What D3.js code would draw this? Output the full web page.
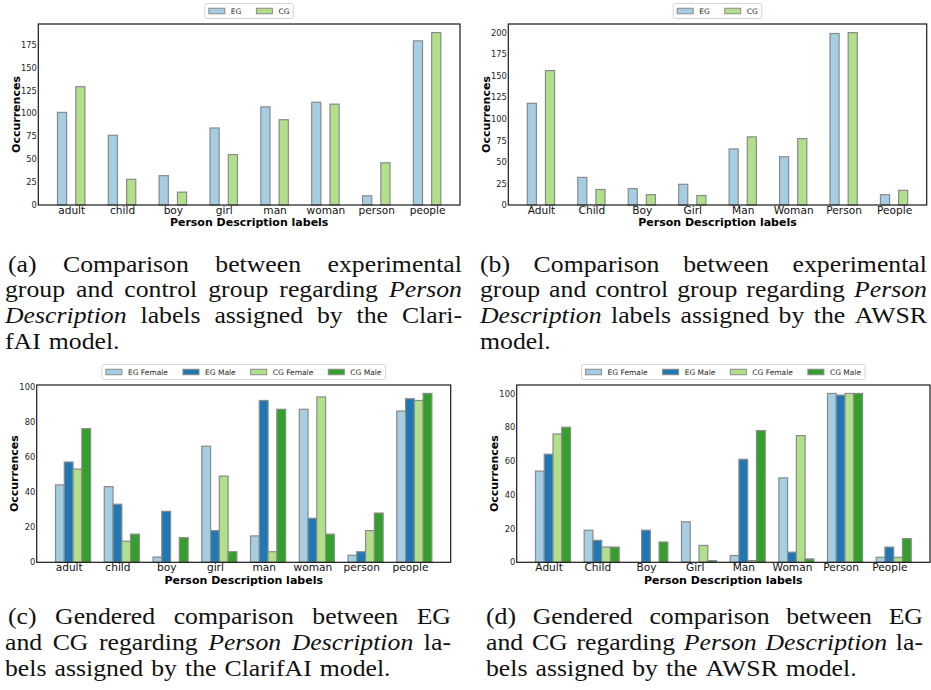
<!DOCTYPE html>
<html>
<head>
<meta charset="utf-8">
<script src="https://cdn.jsdelivr.net/npm/d3@7"></script>
<style>
  body { margin: 0; background: #fff; }
  svg text { font-family: "DejaVu Sans", sans-serif; }
  .cap text { font-family: "Liberation Serif", serif; }
</style>
</head>
<body>
<svg id="fig" width="931" height="690"></svg>
<script>
// ---- data ----
const labelsLower = ["adult", "child", "boy", "girl", "man", "woman", "person", "people"];
const labelsUpper = ["Adult", "Child", "Boy", "Girl", "Man", "Woman", "Person", "People"];

const egClarifai = [101, 76, 32, 84, 107, 112, 10, 179];
const cgClarifai = [129, 28, 14, 55, 93, 110, 46, 188];

const egAwsr = [118, 32, 19, 24, 65, 56, 199, 12];
const cgAwsr = [156, 18, 12, 11, 79, 77, 200, 17];

const egFemaleClarifai = [44, 43, 3, 66, 15, 87, 4, 86];
const egMaleClarifai   = [57, 33, 29, 18, 92, 25, 6, 93];
const cgFemaleClarifai = [53, 12, 0, 49, 6, 94, 18, 92];
const cgMaleClarifai   = [76, 16, 14, 6, 87, 16, 28, 96];

const egFemaleAwsr = [54, 19, 0, 24, 4, 50, 100, 3];
const egMaleAwsr   = [64, 13, 19, 0, 61, 6, 99, 9];
const cgFemaleAwsr = [76, 9, 0, 10, 1, 75, 100, 3];
const cgMaleAwsr   = [80, 9, 12, 1, 78, 2, 100, 14];

const ticksClarifai = [0, 25, 50, 75, 100, 125, 150, 175];
const ticksAwsr     = [0, 25, 50, 75, 100, 125, 150, 175, 200];
const ticksGender   = [0, 20, 40, 60, 80, 100];

const groupNames  = ["EG", "CG"];
const genderNames = ["EG Female", "EG Male", "CG Female", "CG Male"];

const captionA = ["(a) Comparison between experimental",
                  "group and control group regarding *Person*",
                  "*Description* labels assigned by the Clari-",
                  "fAI model."];
const captionB = ["(b) Comparison between experimental",
                  "group and control group regarding *Person*",
                  "*Description* labels assigned by the AWSR",
                  "model."];
const captionC = ["(c) Gendered comparison between EG",
                  "and CG regarding *Person* *Description* la-",
                  "bels assigned by the ClarifAI model."];
const captionD = ["(d) Gendered comparison between EG",
                  "and CG regarding *Person* *Description* la-",
                  "bels assigned by the AWSR model."];

const pairColors   = ["#a6cee3", "#b2df8a"];
const genderColors = ["#a6cee3", "#1f78b4", "#b2df8a", "#33a02c"];

const svg = d3.select("#fig");

function drawPanel({ box, cats, series, names, colors, yTicks }) {
  const [left, top, right, bottom] = box;
  const g = svg.append("g");
  const barW = 0.18;
  const offsets = series.length === 2 ? [-0.18, 0.18] : [-0.18, 0, 0.18, 0.36];

  // matplotlib-ish 5% margins on x, 5% headroom on y
  const lo = d3.min(offsets) - barW / 2;
  const hi = cats.length - 1 + d3.max(offsets) + barW / 2;
  const pad = (hi - lo) * 0.05;
  const x = d3.scaleLinear().domain([lo - pad, hi + pad]).range([left, right]);
  const yMax = d3.max(series.flat()) * 1.05;
  const y = d3.scaleLinear().domain([0, yMax]).range([bottom, top]);

  series.forEach((vals, s) => {
    g.append("g").selectAll("rect")
      .data(vals.map((v, i) => ({ v, i })).filter(d => d.v > 0))
      .join("rect")
        .attr("x", d => x(d.i + offsets[s] - barW / 2))
        .attr("width", x(barW) - x(0))
        .attr("y", d => y(d.v))
        .attr("height", d => y(0) - y(d.v))
        .attr("fill", colors[s])
        .attr("stroke", "#8a8a8a")
        .attr("stroke-width", 1.2);
  });

  const yAxis = g.append("g")
    .attr("transform", `translate(${left},0)`)
    .call(d3.axisLeft(y).tickValues(yTicks).tickSize(0).tickPadding(1.5));
  yAxis.select(".domain").remove();
  yAxis.selectAll("text").attr("font-size", 8.3).attr("fill", "#262626")
    .attr("font-family", "DejaVu Sans");

  const xAxis = g.append("g")
    .attr("transform", `translate(0,${bottom})`)
    .call(d3.axisBottom(x).tickValues(d3.range(cats.length))
      .tickFormat(i => cats[i]).tickSize(0).tickPadding(1));
  xAxis.select(".domain").remove();
  xAxis.selectAll("text").attr("font-size", 10.6).attr("fill", "#111")
    .attr("font-family", "DejaVu Sans");

  g.append("rect")
    .attr("x", left).attr("y", top)
    .attr("width", right - left).attr("height", bottom - top)
    .attr("fill", "none").attr("stroke", "#1a1a1a").attr("stroke-width", 1.2);

  g.append("text")
    .attr("x", (left + right) / 2).attr("y", bottom + 21.2)
    .attr("text-anchor", "middle")
    .attr("font-size", 11).attr("font-weight", "bold")
    .text("Person Description labels");

  g.append("text")
    .attr("transform", `translate(${left - 18.5},${(top + bottom) / 2}) rotate(-90)`)
    .attr("text-anchor", "middle")
    .attr("font-size", 11).attr("font-weight", "bold")
    .text("Occurrences");

  // legend, laid out from measured text widths, centred over the axes
  const fs = 7.5, handleW = 16, handleH = 5.5, textPad = 6, colGap = 15, boxPad = 4;
  const leg = g.append("g");
  const frame = leg.append("rect");
  let cx = 0;
  names.forEach((name, k) => {
    const it = leg.append("g");
    it.append("rect")
      .attr("x", cx).attr("y", -handleH / 2)
      .attr("width", handleW).attr("height", handleH)
      .attr("fill", colors[k]).attr("stroke", "#8a8a8a").attr("stroke-width", 1);
    const t = it.append("text")
      .attr("x", cx + handleW + textPad).attr("y", 0).attr("dy", "0.35em")
      .attr("font-size", fs).attr("fill", "#262626")
      .text(name);
    const w = t.node().getComputedTextLength();
    cx += handleW + textPad + w + (k < names.length - 1 ? colGap : 0);
  });
  const legW = cx + 2 * boxPad, legH = 15;
  const legX = (left + right) / 2 - legW / 2;
  const legY = top - 5.5 - legH;
  leg.attr("transform", `translate(${legX + boxPad},${legY + legH / 2})`);
  frame.attr("x", -boxPad).attr("y", -legH / 2)
    .attr("width", legW).attr("height", legH)
    .attr("rx", 2).attr("fill", "#fff").attr("stroke", "#d6d6d6").attr("stroke-width", 1);
}

drawPanel({ box: [38.3, 24, 460, 205], cats: labelsLower,
            series: [egClarifai, cgClarifai], names: groupNames,
            colors: pairColors, yTicks: ticksClarifai });
drawPanel({ box: [508.3, 24, 926.7, 205], cats: labelsUpper,
            series: [egAwsr, cgAwsr], names: groupNames,
            colors: pairColors, yTicks: ticksAwsr });
drawPanel({ box: [36.7, 385, 450.7, 562.3], cats: labelsLower,
            series: [egFemaleClarifai, egMaleClarifai, cgFemaleClarifai, cgMaleClarifai],
            names: genderNames, colors: genderColors, yTicks: ticksGender });
drawPanel({ box: [516.7, 385, 930, 562.3], cats: labelsUpper,
            series: [egFemaleAwsr, egMaleAwsr, cgFemaleAwsr, cgMaleAwsr],
            names: genderNames, colors: genderColors, yTicks: ticksGender });

// justified captions: every line but the last is stretched to the column width.
// Times is narrower than the TeX font, so words are widened a little instead of
// made taller (the lines sit close together).
function drawCaption(lines, { left, firstLeft, right, base }) {
  const fs = 23, sx = 1.12, lh = 25.8, space = 8;
  const g = svg.append("g").attr("class", "cap");
  lines.forEach((line, li) => {
    const words = line.split(" ").map(w => {
      const it = /^\*.*\*$/.test(w);
      return { text: it ? w.slice(1, -1) : w, it };
    });
    const nodes = words.map(w => g.append("text")
      .attr("font-size", fs).attr("fill", "#111")
      .attr("font-style", w.it ? "italic" : "normal")
      .text(w.text));
    const ws = nodes.map(n => n.node().getComputedTextLength() * sx);
    const x0 = li === 0 ? firstLeft : left;
    const last = li === lines.length - 1;
    const gap = last || words.length < 2 ? space
      : (right - x0 - d3.sum(ws)) / (words.length - 1);
    let cx = x0;
    nodes.forEach((n, k) => {
      n.attr("transform", `translate(${cx},${base + li * lh}) scale(${sx},1)`);
      cx += ws[k] + gap;
    });
  });
}

drawCaption(captionA, { left: 5, firstLeft: 8, right: 462, base: 271.5 });
drawCaption(captionB, { left: 480, firstLeft: 480, right: 927, base: 271.5 });
drawCaption(captionC, { left: 5, firstLeft: 8, right: 451, base: 624 });
drawCaption(captionD, { left: 486, firstLeft: 486, right: 923, base: 624 });
</script>
</body>
</html>
